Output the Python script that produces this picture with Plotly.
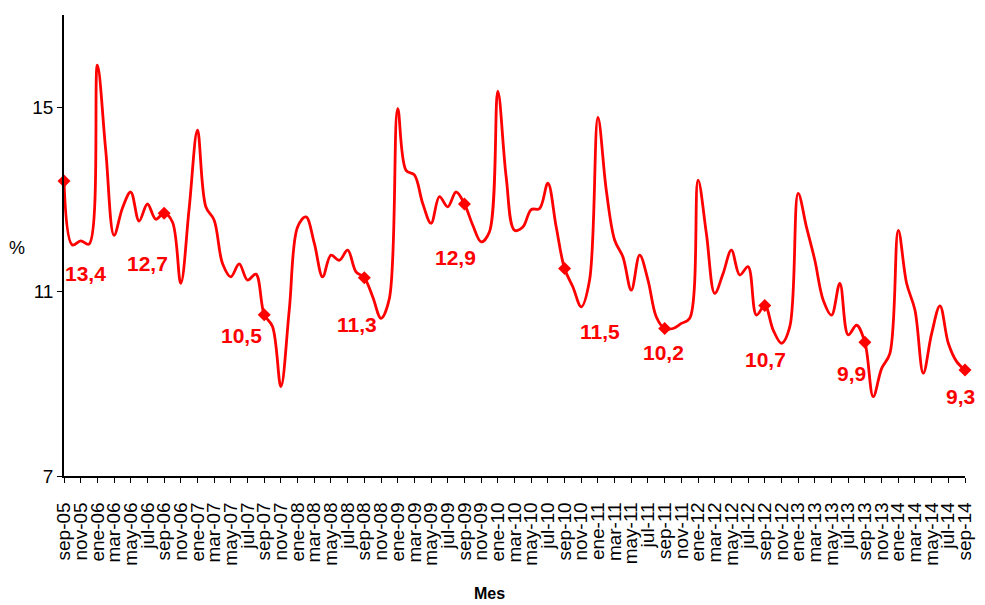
import plotly.graph_objects as go

month_names = ["ene", "feb", "mar", "abr", "may", "jun", "jul", "ago", "sep", "oct", "nov", "dic"]
start_year, start_month = 2005, 9  # sep-05
n_months = 109

categories = []
for k in range(n_months):
    m = (start_month - 1 + k) % 12
    y = start_year + (start_month - 1 + k) // 12
    categories.append(f"{month_names[m]}-{y % 100:02d}")

values = [
    13.4, 12.01, 12.10, 12.03, 15.91, 14.07, 12.22, 12.81, 13.16, 12.53, 12.90, 12.57,
    12.7, 12.51, 11.18, 12.8, 14.50, 12.84, 12.55, 11.61, 11.32, 11.60, 11.25, 11.38,
    10.5, 10.24, 8.94, 10.6, 12.40, 12.62, 12.05, 11.32, 11.79, 11.68, 11.90, 11.43,
    11.3, 10.89, 10.42, 10.85, 14.97, 13.63, 13.53, 12.91, 12.48, 13.06, 12.84, 13.16,
    12.9, 12.44, 12.08, 12.30, 15.35, 13.49, 12.33, 12.40, 12.78, 12.80, 13.35, 12.40,
    11.5, 11.10, 10.67, 11.25, 14.78, 13.20, 12.12, 11.75, 11.03, 11.79, 11.25, 10.45,
    10.2, 10.20, 10.31, 10.42, 13.42, 12.26, 10.96, 11.39, 11.90, 11.36, 11.54, 10.49,
    10.7, 10.17, 9.88, 10.24, 13.13, 12.40, 11.68, 10.82, 10.49, 11.18, 10.06, 10.27,
    9.9, 8.72, 9.33, 9.66, 12.33, 11.18, 10.60, 9.23, 10.09, 10.69, 9.88, 9.48,
    9.3,
]

y_ticks = [7, 11, 15]

# label offsets (pixels) for the September labels: (dx, dy-down)
label_offsets = [(21, 93), (-17, 50), (-23, 21), (-7, 47), (-9, 53),
                 (35, 63), (-1, 24), (1, 54), (-13, 31), (-5, 27)]

sep_cats = [c for c in categories if c.startswith("sep")]
sep_vals = [v for c, v in zip(categories, values) if c.startswith("sep")]

RED = "#FF0000"
NARROW = "Liberation Sans Narrow, Arial Narrow, Liberation Sans, Arial"

fig = go.Figure()
fig.add_trace(go.Scatter(
    x=categories, y=values, mode="lines",
    line=dict(color=RED, width=2.8, shape="spline", smoothing=1.0),
    showlegend=False, hoverinfo="skip", cliponaxis=False,
))
fig.add_trace(go.Scatter(
    x=sep_cats, y=sep_vals, mode="markers",
    marker=dict(symbol="diamond", size=10, color=RED),
    showlegend=False, cliponaxis=False,
))

for (c, v), (dx, dy) in zip(zip(sep_cats, sep_vals), label_offsets):
    fig.add_annotation(
        x=c, y=v, xref="x", yref="y",
        text=f"{v:.1f}".replace(".", ","),
        showarrow=False, xshift=dx, yshift=-dy,
        xanchor="center", yanchor="middle",
        font=dict(family=NARROW, size=21, color=RED, weight="bold"),
    )

fig.add_annotation(
    text="%", xref="paper", yref="paper", x=-0.0522, y=0.4946,
    xanchor="center", yanchor="middle",
    showarrow=False, font=dict(family="Liberation Sans", size=18, color="black"),
)
fig.add_annotation(
    text="Mes", xref="paper", yref="paper", x=0.4728, y=-0.2538,
    xanchor="center", yanchor="middle",
    showarrow=False,
    font=dict(family=NARROW, size=16, color="black", weight="bold"),
)

fig.update_xaxes(
    type="category", categoryorder="array", categoryarray=categories,
    range=[0, n_months - 1],
    tickmode="array", tickvals=categories[::2], ticktext=categories[::2],
    tickangle=-90, ticks="outside", ticklen=5, tickcolor="black",
    ticklabelstandoff=12,
    showline=True, linecolor="black", linewidth=1.5, showgrid=False, zeroline=False,
    tickfont=dict(family="Liberation Sans", size=19, color="black"),
    automargin=False,
)
fig.update_yaxes(
    range=[7, 17], tickvals=y_ticks, ticktext=[str(t) for t in y_ticks],
    ticks="outside", ticklen=5, tickcolor="black",
    showline=True, linecolor="black", linewidth=1.5, showgrid=False, zeroline=False,
    tickfont=dict(family="Liberation Sans", size=19, color="black"),
    automargin=False,
)

# page body has an 8px margin; size the figure so the plot area lands where the reference has it
fig.update_layout(
    width=977, height=597,
    margin=dict(l=56, r=20, t=7, b=129),
    plot_bgcolor="white", paper_bgcolor="white",
)

fig.write_html("out.html")
